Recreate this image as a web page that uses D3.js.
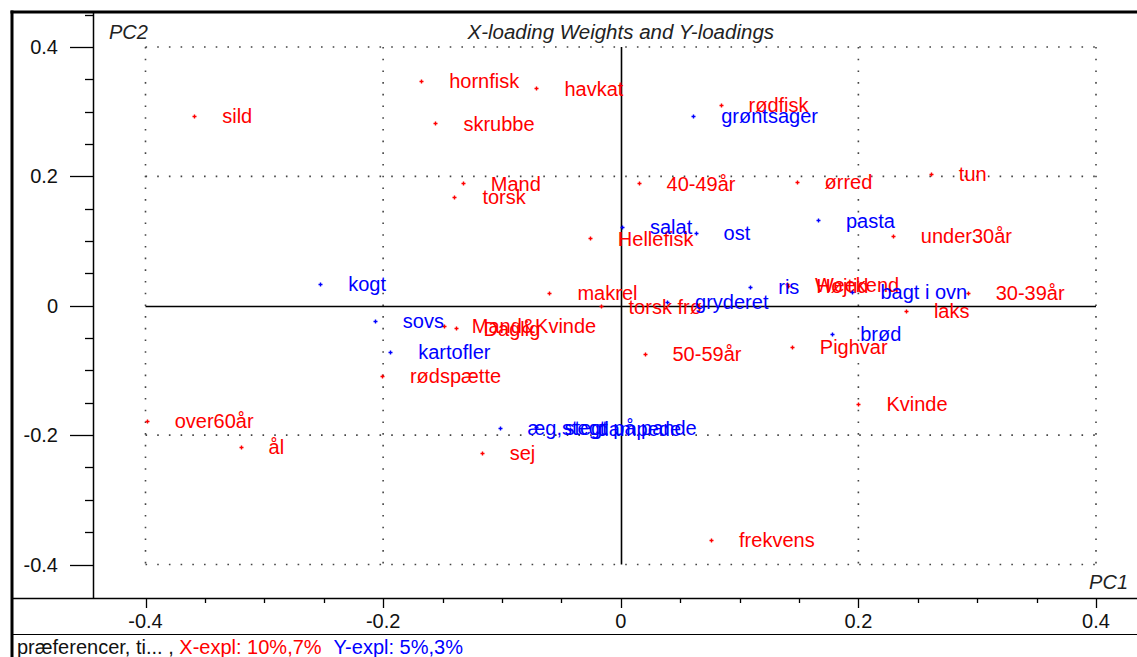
<!DOCTYPE html>
<html>
<head>
<meta charset="utf-8">
<script src="https://cdn.jsdelivr.net/npm/d3@7"></script>
<style>
  html, body { margin: 0; padding: 0; background: #fff; }
  svg { display: block; font-family: "Liberation Sans", Arial, sans-serif; }
</style>
</head>
<body>
<div id="chart"></div>
<script>
// ---- Data ----
// X-loading weights (red)
const xNames = ['sild', 'hornfisk', 'havkat', 'skrubbe', 'rødfisk', 'Mand', 'torsk', '40-49år', 'ørred', 'tun',
  'Hellefisk', 'under30år', 'makrel', 'torsk frø', 'Weekend', 'Højtid', '30-39år', 'laks', 'Pighvar', '50-59år',
  'Kvinde', 'frekvens', 'over60år', 'ål', 'sej', 'rødspætte', 'Mand&Kvinde', 'Daglig'];
const xPC1 = [-0.359, -0.168, -0.071, -0.156, 0.084, -0.133, -0.140, 0.015, 0.148, 0.261,
  -0.026, 0.229, -0.060, -0.017, 0.140, 0.141, 0.292, 0.240, 0.144, 0.020,
  0.200, 0.076, -0.399, -0.320, -0.117, -0.201, -0.149, -0.139];
const xPC2 = [0.294, 0.347, 0.336, 0.282, 0.310, 0.189, 0.168, 0.189, 0.191, 0.204,
  0.104, 0.108, 0.020, -0.001, 0.033, 0.031, 0.020, -0.008, -0.063, -0.074,
  -0.152, -0.362, -0.178, -0.218, -0.228, -0.108, -0.031, -0.035];

// Y-loadings (blue)
const yNames = ['grøntsager', 'kogt', 'salat', 'ost', 'pasta', 'sovs', 'kartofler', 'brød', 'ris', 'gryderet',
  'bagt i ovn', 'æg,stegt', 'stegt på pande', 'dampede'];
const yPC1 = [0.061, -0.253, 0.001, 0.063, 0.166, -0.207, -0.194, 0.178, 0.109, 0.039,
  0.195, -0.102, -0.071, -0.043];
const yPC2 = [0.294, 0.034, 0.122, 0.113, 0.132, -0.023, -0.071, -0.043, 0.029, 0.006,
  0.022, -0.189, -0.188, -0.190];

const ticks = [-0.4, -0.2, 0, 0.2, 0.4];
const gridVals = [-0.4, -0.2, 0.2, 0.4];

// ---- Layout ----
const W = 1137, H = 657;
const RED = '#ff0000', BLUE = '#0000ff';
const frameL = 12, frameT = 12, axisX = 93, axisY = 598, footY = 634;

const x = d3.scaleLinear().domain([-0.4, 0.4]).range([145.5, 1096]);
const y = d3.scaleLinear().domain([-0.4, 0.4]).range([564.5, 47]);

const svg = d3.select('#chart').append('svg')
  .attr('width', W).attr('height', H);

// frame
svg.append('line').attr('x1', frameL).attr('x2', frameL).attr('y1', frameT - 1.5).attr('y2', H)
  .attr('stroke', '#000').attr('stroke-width', 3);
svg.append('line').attr('x1', frameL - 1.5).attr('x2', W).attr('y1', frameT).attr('y2', frameT)
  .attr('stroke', '#000').attr('stroke-width', 3);
svg.append('line').attr('x1', axisX + 0.5).attr('x2', axisX + 0.5).attr('y1', frameT).attr('y2', axisY)
  .attr('stroke', '#000').attr('stroke-width', 1.5);
svg.append('line').attr('x1', frameL).attr('x2', W).attr('y1', axisY + 0.5).attr('y2', axisY + 0.5)
  .attr('stroke', '#000').attr('stroke-width', 1.5);
svg.append('line').attr('x1', frameL).attr('x2', W).attr('y1', footY + 0.5).attr('y2', footY + 0.5)
  .attr('stroke', '#000').attr('stroke-width', 1.2);

// y axis ticks
const yMinor = d3.range(-9, 10).map(i => i * 0.05).filter(v => y(v) > frameT + 2 && y(v) < axisY - 2);
svg.append('g').selectAll('line').data(yMinor).join('line')
  .attr('x1', d => ticks.some(t => Math.abs(t - d) < 1e-9) ? 70 : 85).attr('x2', axisX)
  .attr('y1', d => Math.round(y(d)) + 0.5).attr('y2', d => Math.round(y(d)) + 0.5)
  .attr('stroke', '#000').attr('stroke-width', 1.3);
svg.append('g').selectAll('text').data(ticks).join('text')
  .attr('x', 58).attr('y', d => y(d)).attr('dy', '0.35em')
  .attr('text-anchor', 'end').attr('font-size', 20).attr('fill', '#111')
  .text(d => d === 0 ? '0' : d3.format('.1f')(d).replace('−', '-'));

// x axis ticks
const xMinor = d3.range(-9, 10).map(i => i * 0.05).filter(v => x(v) > axisX + 2 && x(v) < W - 2);
svg.append('g').selectAll('line').data(xMinor).join('line')
  .attr('x1', d => Math.round(x(d)) + 0.5).attr('x2', d => Math.round(x(d)) + 0.5)
  .attr('y1', axisY).attr('y2', d => ticks.some(t => Math.abs(t - d) < 1e-9) ? 608 : 603)
  .attr('stroke', '#000').attr('stroke-width', 1.3);
svg.append('g').selectAll('text').data(ticks).join('text')
  .attr('x', d => x(d)).attr('y', 628)
  .attr('text-anchor', 'middle').attr('font-size', 20).attr('fill', '#111')
  .text(d => d === 0 ? '0' : d3.format('.1f')(d).replace('−', '-'));

// dotted grid
const grid = svg.append('g').attr('stroke', '#444').attr('stroke-width', 1.6).attr('stroke-dasharray', '1.6 10.1');
grid.selectAll('line.v').data(gridVals).join('line').attr('class', 'v')
  .attr('x1', d => x(d)).attr('x2', d => x(d)).attr('y1', y(0.4)).attr('y2', y(-0.4));
grid.selectAll('line.h').data(gridVals).join('line').attr('class', 'h')
  .attr('x1', x(-0.4)).attr('x2', x(0.4)).attr('y1', d => y(d)).attr('y2', d => y(d));

// zero axes
svg.append('line').attr('x1', x(-0.4)).attr('x2', x(0.4)).attr('y1', Math.round(y(0)) + 0.5).attr('y2', Math.round(y(0)) + 0.5)
  .attr('stroke', '#000').attr('stroke-width', 1.6);
svg.append('line').attr('x1', Math.round(x(0)) + 0.5).attr('x2', Math.round(x(0)) + 0.5).attr('y1', y(0.4)).attr('y2', y(-0.4))
  .attr('stroke', '#000').attr('stroke-width', 1.6);

// titles
svg.append('text').attr('x', x(0)).attr('y', 39).attr('text-anchor', 'middle')
  .attr('font-size', 20.5).attr('font-style', 'italic').attr('fill', '#222')
  .text('X-loading Weights and Y-loadings');
svg.append('text').attr('x', 109).attr('y', 39).attr('font-size', 20).attr('font-style', 'italic').attr('fill', '#222').text('PC2');
svg.append('text').attr('x', 1128).attr('y', 589).attr('text-anchor', 'end')
  .attr('font-size', 20).attr('font-style', 'italic').attr('fill', '#222').text('PC1');

// points + labels
function drawSet(names, pc1, pc2, color) {
  const pts = names.map((n, i) => ({ name: n, px: pc1[i], py: pc2[i] }));
  const g = svg.append('g');
  g.selectAll('path').data(pts).join('path')
    .attr('d', d => {
      const cx = Math.round(x(d.px)) + 0.5, cy = Math.round(y(d.py)) + 0.5;
      return `M${cx - 2},${cy}H${cx + 2}M${cx},${cy - 2}V${cy + 2}`;
    })
    .attr('stroke', color).attr('stroke-width', 1.4);
  g.selectAll('text').data(pts).join('text')
    .attr('x', d => x(d.px) + 28).attr('y', d => y(d.py)).attr('dy', '0.36em')
    .attr('font-size', 20).attr('fill', color)
    .text(d => d.name);
}
drawSet(xNames, xPC1, xPC2, RED);
drawSet(yNames, yPC1, yPC2, BLUE);

// footer
const foot = svg.append('text').attr('x', 17).attr('y', 654).attr('font-size', 20);
foot.append('tspan').attr('fill', '#111').text('præferencer, ti... , ');
foot.append('tspan').attr('fill', RED).text('X-expl: 10%,7%');
foot.append('tspan').attr('fill', BLUE).attr('dx', 12).text('Y-expl: 5%,3%');
</script>
</body>
</html>
